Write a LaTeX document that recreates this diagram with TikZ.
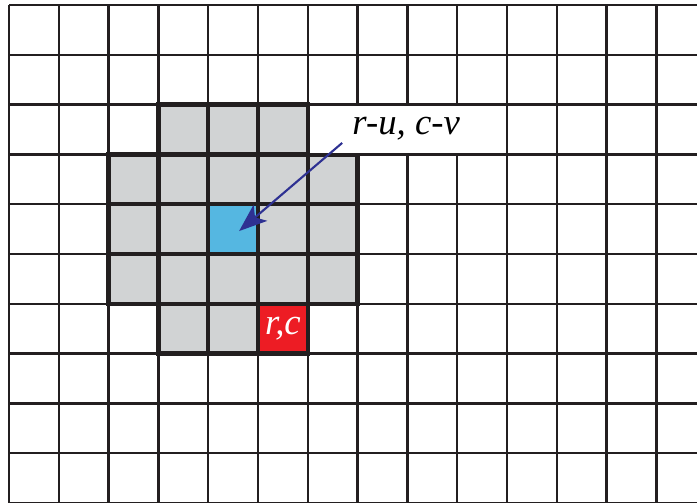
\documentclass[tikz,border=0pt]{standalone}
\usepackage{fontspec}
\setmainfont{Liberation Serif}
\newfontfamily\corsivo{Liberation Serif}
\usepackage{xcolor}
\usepackage{tikz}
\usetikzlibrary{arrows.meta}

\definecolor{grigiocella}{HTML}{D1D3D4}
\definecolor{azzurrocella}{HTML}{55B7E1}
\definecolor{rossocella}{HTML}{ED1C24}
\definecolor{blufreccia}{HTML}{2E3192}
\definecolor{nerolinea}{HTML}{231F20}

\begin{document}
\begin{tikzpicture}[x=1cm, y=-1cm,
        griglia/.style={line width=1.4pt, nerolinea},
        bordo/.style={draw=nerolinea, line width=2.5pt},
        cellagrigia/.style={bordo, fill=grigiocella},
        cellapiena/.style={bordo, minimum size=1cm, inner sep=0pt, outer sep=0pt},
        testo/.style={font=\corsivo\itshape\fontsize{21}{24}\selectfont},
        freccia/.style={line width=1.2pt, blufreccia, -{Stealth[length=16pt, width=12pt, inset=4pt]}}]
        \clip (-0.181, -0.1) rectangle (13.815, 10.0);

        % Griglia di sfondo
        \foreach \r in {0,...,10}
            \draw[griglia] (0, \r) -- (14.5, \r);
        \foreach \c in {0,...,14}
            \draw[griglia] (\c, 0) -- (\c, 10.5);

        % Intorno (celle grigie)
        \foreach \c/\r in {3/2, 4/2, 5/2,
                           2/3, 3/3, 4/3, 5/3, 6/3,
                           2/4, 3/4, 5/4, 6/4,
                           2/5, 3/5, 4/5, 5/5, 6/5,
                           3/6, 4/6}
            \draw[cellagrigia] (\c, \r) rectangle ++(1, 1);

        % Celle evidenziate
        \node[cellapiena, fill=azzurrocella] (cellblu) at (4.5, 4.5) {};
        \node[cellapiena, fill=rossocella, text=white, testo] (cellrc) at (5.5, 6.5) {r,c};

        % Etichetta e freccia
        \fill[white] (6.05, 2.03) rectangle (9.8, 2.97);
        \node[testo, anchor=base west, inner sep=0pt] (etichetta) at (6.89, 2.61) {r-u, c-v};
        \coordinate (inizio) at (6.69, 2.77);
        \draw[freccia] (inizio) -- ([xshift=0.12cm, yshift=-0.04cm]cellblu.center);
    \end{tikzpicture}
\end{document}
